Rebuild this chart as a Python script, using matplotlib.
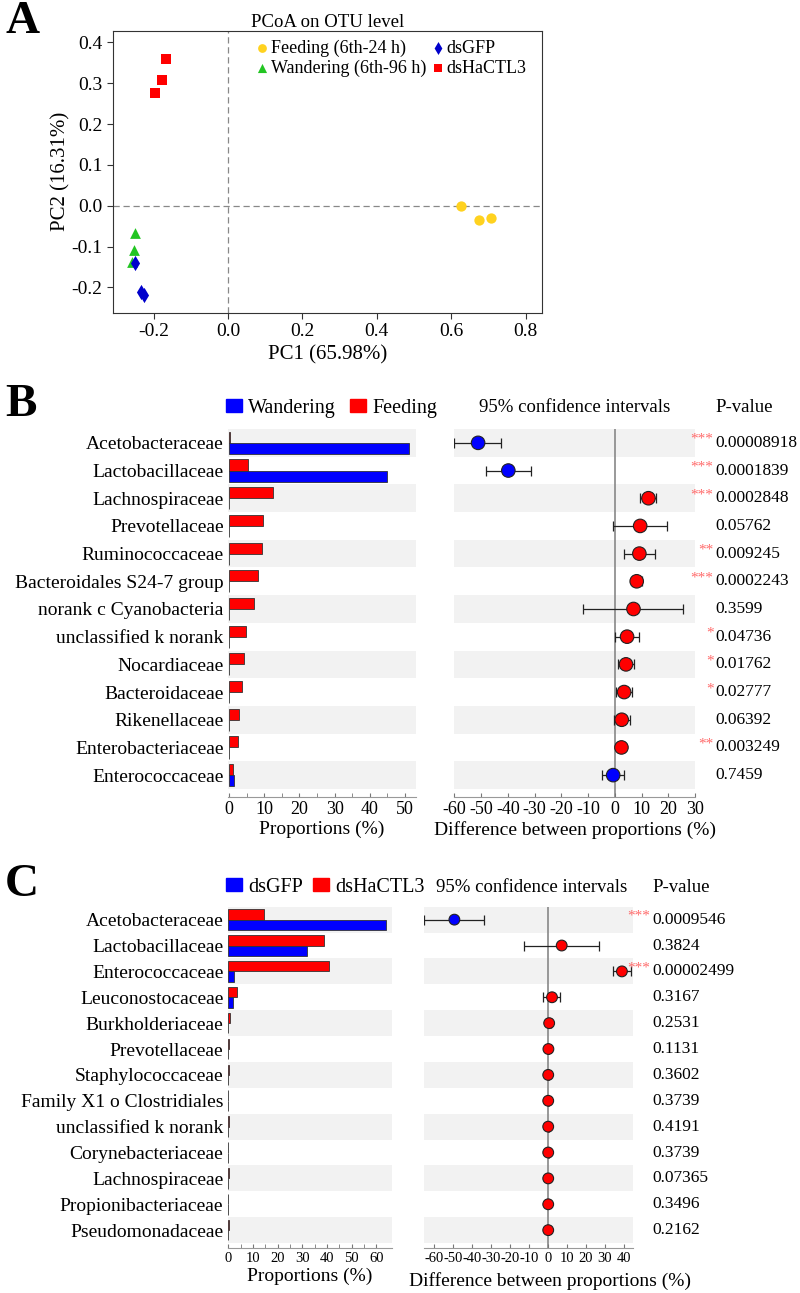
import numpy as np
import matplotlib
matplotlib.use("Agg")
import matplotlib.pyplot as plt
from matplotlib.patches import Patch

plt.rcParams["font.family"] = ["Liberation Serif", "DejaVu Serif"]
plt.rcParams["axes.unicode_minus"] = False

# ---- panel A: PCoA scores ----
pc_groups = ["Feeding (6th-24 h)", "Wandering (6th-96 h)", "dsGFP", "dsHaCTL3"]
pc1 = [[0.627, 0.675, 0.707], [-0.249, -0.252, -0.258],
       [-0.251, -0.234, -0.226], [-0.167, -0.178, -0.197]]
pc2 = [[0.0, -0.036, -0.029], [-0.066, -0.109, -0.138],
       [-0.141, -0.212, -0.219], [0.358, 0.307, 0.276]]

# ---- panel B: Wandering vs Feeding ----
b_taxa = ["Acetobacteraceae", "Lactobacillaceae", "Lachnospiraceae", "Prevotellaceae",
          "Ruminococcaceae", "Bacteroidales S24-7 group", "norank c Cyanobacteria",
          "unclassified k norank", "Nocardiaceae", "Bacteroidaceae", "Rikenellaceae",
          "Enterobacteriaceae", "Enterococcaceae"]
b_wand = [51.2, 44.8, 0.05, 0.05, 0.05, 0.05, 0.05, 0.05, 0.05, 0.05, 0.05, 0.05, 1.5]
b_feed = [0.3, 5.3, 12.6, 9.6, 9.3, 8.2, 7.0, 4.7, 4.3, 3.6, 2.7, 2.6, 1.0]
b_diff = [-51.1, -39.8, 12.6, 9.5, 9.2, 8.2, 7.0, 4.6, 4.2, 3.5, 2.6, 2.5, -0.6]
b_lo = [-60.0, -48.0, 9.5, -0.6, 3.6, 6.4, -11.7, 0.2, 1.2, 0.6, -0.2, 1.4, -4.6]
b_hi = [-42.4, -31.5, 15.6, 19.4, 15.0, 10.0, 25.6, 9.1, 7.2, 6.4, 5.6, 3.9, 3.4]
b_p = ["0.00008918", "0.0001839", "0.0002848", "0.05762", "0.009245", "0.0002243",
       "0.3599", "0.04736", "0.01762", "0.02777", "0.06392", "0.003249", "0.7459"]
b_sig = ["***", "***", "***", "", "**", "***", "", "*", "*", "*", "", "**", ""]

# ---- panel C: dsGFP vs dsHaCTL3 ----
c_taxa = ["Acetobacteraceae", "Lactobacillaceae", "Enterococcaceae", "Leuconostocaceae",
          "Burkholderiaceae", "Prevotellaceae", "Staphylococcaceae",
          "Family X1 o Clostridiales", "unclassified k norank", "Corynebacteriaceae",
          "Lachnospiraceae", "Propionibacteriaceae", "Pseudomonadaceae"]
c_gfp = [63.9, 31.9, 2.2, 1.8, 0.1, 0.05, 0.05, 0.05, 0.05, 0.05, 0.05, 0.05, 0.05]
c_ctl = [14.7, 38.8, 40.9, 3.6, 0.7, 0.2, 0.15, 0.1, 0.2, 0.1, 0.2, 0.1, 0.15]
c_diff = [-49.3, 7.2, 38.9, 2.1, 0.6, 0.2, 0.1, 0.1, 0.1, 0.1, 0.1, 0.1, 0.1]
c_lo = [-65.1, -12.6, 34.0, -2.6, -0.2, -0.1, -0.2, -0.1, -0.2, -0.1, -0.2, -0.1, -0.1]
c_hi = [-33.5, 27.0, 43.7, 6.3, 1.4, 0.5, 0.4, 0.3, 0.4, 0.3, 0.4, 0.3, 0.3]
c_p = ["0.0009546", "0.3824", "0.00002499", "0.3167", "0.2531", "0.1131", "0.3602",
       "0.3739", "0.4191", "0.3739", "0.07365", "0.3496", "0.2162"]
c_sig = ["***", "", "***", "", "", "", "", "", "", "", "", "", ""]

W, H = 800, 1293
fig = plt.figure(figsize=(W / 100, H / 100), dpi=100)


def rect(x0, y0, x1, y1):
    # pixel box (origin top-left) -> figure fraction
    return [x0 / W, 1 - y1 / H, (x1 - x0) / W, (y1 - y0) / H]


BLUE, RED, BAND = "#0000ff", "#ff0000", "#f2f2f2"
STAR = "#ff6a6a"

# ================= A =================
ax = fig.add_axes(rect(113, 30.7, 542.3, 312.7))
styles = [("o", "#ffd21f", 55), ("^", "#22c522", 60), ("d", "#0000cc", 60), ("s", "#ff0000", 45)]
for name, xs, ys, (m, col, s) in zip(pc_groups, pc1, pc2, styles):
    ax.scatter(xs, ys, marker=m, c=col, s=s, linewidths=0, label=name, zorder=3)
ax.axvline(0, color="#888888", lw=0.9, ls=(0, (5, 3)))
ax.axhline(0, color="#888888", lw=0.9, ls=(0, (5, 3)))
ax.set_xlim(-0.309, 0.845)
ax.set_ylim(-0.262, 0.4285)
ax.set_xticks([-0.2, 0.0, 0.2, 0.4, 0.6, 0.8])
ax.set_yticks([-0.2, -0.1, 0.0, 0.1, 0.2, 0.3, 0.4])
ax.xaxis.set_major_formatter(matplotlib.ticker.FormatStrFormatter("%.1f"))
ax.yaxis.set_major_formatter(matplotlib.ticker.FormatStrFormatter("%.1f"))
ax.tick_params(labelsize=14, length=4, color="#333333")
for sp in ax.spines.values():
    sp.set_color("#333333")
ax.set_xlabel("PC1 (65.98%)", fontsize=15, labelpad=4)
ax.set_ylabel("PC2 (16.31%)", fontsize=15)
ax.yaxis.set_label_coords((70 - 113) / 429.3, 0.5)
ax.set_title("PCoA on OTU level", fontsize=13.5, pad=2)
ax.legend(loc="upper right", ncol=2, frameon=False, fontsize=13, handletextpad=0.0,
          columnspacing=0.15, labelspacing=0.15, borderaxespad=0.1, handlelength=1.0,
          markerscale=0.85, bbox_to_anchor=(0.985, 1.0))

fig.text(5 / W, 1 - 22 / H, "A", fontsize=34, fontweight="bold", va="center", ha="left")


def bar_panel(box, taxa, v_top, v_bot, xmax, ticks, labels, tick_fs, ylow):
    a = fig.add_axes(rect(*box))
    n = len(taxa)
    y = np.arange(n)
    for i in range(0, n, 2):
        a.axhspan(i - 0.5, i + 0.5, color=BAND, lw=0, zorder=0)
    a.barh(y - 0.2, v_top, height=0.4, color=RED, edgecolor="#333333", lw=0.6, zorder=2)
    a.barh(y + 0.2, v_bot, height=0.4, color=BLUE, edgecolor="#333333", lw=0.6, zorder=2)
    a.set_ylim(ylow, -0.5)
    a.set_xlim(-0.3, xmax)
    a.set_yticks(y)
    a.set_yticklabels(taxa, fontsize=14)
    a.tick_params(axis="y", length=0, pad=3)
    a.set_xticks(ticks, minor=True)
    a.set_xticks(labels)
    a.tick_params(axis="x", which="both", direction="in", length=3, color="#777777",
                  labelsize=tick_fs, pad=3)
    for s in ("top", "right", "left"):
        a.spines[s].set_visible(False)
    a.spines["bottom"].set_color("#999999")
    a.set_xlabel("Proportions (%)", fontsize=14, labelpad=2)
    return a


def ci_panel(box, diff, lo, hi, xlim, ticks, tick_fs, ylow, ms, pvals, sig, px, sx, fs_p,
             xl_x, xl_y):
    a = fig.add_axes(rect(*box))
    n = len(diff)
    y = np.arange(n)
    for i in range(0, n, 2):
        a.axhspan(i - 0.5, i + 0.5, color=BAND, lw=0, zorder=0)
    a.axvline(0, color="#888888", lw=1.2, zorder=1)
    d = np.array(diff)
    err = [d - np.array(lo), np.array(hi) - d]
    a.errorbar(d, y, xerr=err, fmt="none", ecolor="#222222", elinewidth=0.9,
               capsize=3.5, capthick=0.9, zorder=2)
    cols = [BLUE if v < 0 else RED for v in d]
    a.scatter(d, y, s=ms, c=cols, edgecolors="#222222", linewidths=0.8, zorder=3)
    a.set_xlim(*xlim)
    a.set_ylim(ylow, -0.5)
    a.set_yticks([])
    a.set_xticks(ticks)
    a.tick_params(axis="x", direction="in", length=3, color="#777777", labelsize=tick_fs, pad=3)
    for s in ("top", "right", "left"):
        a.spines[s].set_visible(False)
    a.spines["bottom"].set_color("#999999")
    a.set_xlabel("Difference between proportions (%)", fontsize=14)
    # label centre given in pixels below the axis line
    a.xaxis.set_label_coords(xl_x, -xl_y / (box[3] - box[1]))
    a.xaxis.label.set_va("center")
    tr = matplotlib.transforms.blended_transform_factory(fig.transFigure, a.transData)
    for i, (p, s) in enumerate(zip(pvals, sig)):
        fig.text(px / W, 0, p, fontsize=fs_p, va="center", ha="left", transform=tr).set_y(i)
        if s:
            fig.text(sx / W, 0, s, fontsize=11, color=STAR, va="center", ha="right",
                     transform=tr).set_y(i - 0.12)
    return a


# ================= B =================
bar_panel((228, 429, 416, 797), b_taxa, b_feed, b_wand, 53.1,
          np.arange(0, 51, 5), np.arange(0, 51, 10), 13, 12.79)
ci_panel((454.3, 429, 695, 797), b_diff, b_lo, b_hi, (-60, 30), np.arange(-60, 31, 10),
         13, 12.79, 95, b_p, b_sig, 715, 713.5, 12.5, 0.5, 33)
fig.text(5 / W, 1 - 405 / H, "B", fontsize=34, fontweight="bold", va="center", ha="left")
fig.legend(handles=[Patch(color=BLUE, label="Wandering"), Patch(color=RED, label="Feeding")],
           loc="center left", bbox_to_anchor=(226 / W, 1 - 408 / H), ncol=2, frameon=False,
           fontsize=14.5, handlelength=0.8, handleheight=0.6, handletextpad=0.3,
           columnspacing=0.7, borderaxespad=0, borderpad=0)
fig.text(575 / W, 1 - 408 / H, "95% confidence intervals", fontsize=13.5, ha="center", va="center")
fig.text(715 / W, 1 - 408 / H, "P-value", fontsize=13.5, ha="left", va="center")

# ================= C =================
bar_panel((227.5, 906.7, 391.7, 1248), c_taxa, c_ctl, c_gfp, 66.3,
          np.arange(0, 61, 5), np.arange(0, 61, 10), 10.5, 12.69)
ci_panel((424, 906.7, 633.3, 1248), c_diff, c_lo, c_hi, (-65.3, 44.9), np.arange(-60, 41, 10),
         10.5, 12.69, 60, c_p, c_sig, 652, 650, 12.5, 0.6, 33)
fig.text(5 / W, 1 - 885 / H, "C", fontsize=34, fontweight="bold", va="center", ha="left")
fig.legend(handles=[Patch(color=BLUE, label="dsGFP"), Patch(color=RED, label="dsHaCTL3")],
           loc="center left", bbox_to_anchor=(226 / W, 1 - 887 / H), ncol=2, frameon=False,
           fontsize=14.5, handlelength=0.8, handleheight=0.6, handletextpad=0.3,
           columnspacing=0.5, borderaxespad=0, borderpad=0)
fig.text(532 / W, 1 - 887 / H, "95% confidence intervals", fontsize=13.5, ha="center", va="center")
fig.text(652 / W, 1 - 887 / H, "P-value", fontsize=13.5, ha="left", va="center")

fig.savefig("out.png", dpi=100, facecolor="white")
